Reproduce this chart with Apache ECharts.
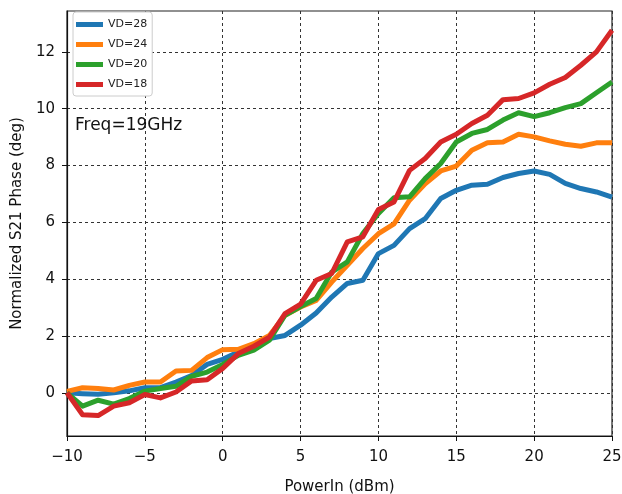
<!DOCTYPE html>
<html>
<head>
<meta charset="utf-8">
<script src="https://cdn.jsdelivr.net/npm/echarts@6/dist/echarts.min.js"></script>
<style>
  html, body { margin: 0; padding: 0; background: #fff; }
  #main { width: 622px; height: 494px; }
</style>
</head>
<body>
<div id="main"></div>
<script>
// input power sweep (dBm)
var powerIn = [-10, -9, -8, -7, -6, -5, -4, -3, -2, -1, 0, 1, 2, 3, 4, 5, 6, 7, 8, 9, 10,
               11, 12, 13, 14, 15, 16, 17, 18, 19, 20, 21, 22, 23, 24, 25];

// normalized S21 phase (deg), one array per drain voltage
var vd28 = [0, -0.03, -0.05, 0, 0.07, 0.18, 0.18, 0.38, 0.61, 1.0, 1.18, 1.44, 1.61, 1.91, 2.02, 2.38, 2.81, 3.37, 3.85, 3.96, 4.9,
            5.19, 5.78, 6.13, 6.84, 7.13, 7.31, 7.34, 7.58, 7.72, 7.81, 7.69, 7.37, 7.19, 7.07, 6.89];
var vd24 = [0.05, 0.18, 0.15, 0.1, 0.26, 0.38, 0.38, 0.77, 0.79, 1.24, 1.52, 1.53, 1.73, 2.02, 2.73, 3.02, 3.25, 3.9, 4.49, 5.08, 5.6,
            5.95, 6.78, 7.36, 7.81, 7.98, 8.54, 8.8, 8.83, 9.1, 9.01, 8.87, 8.75, 8.68, 8.8, 8.8];
var vd20 = [0, -0.47, -0.26, -0.4, -0.2, 0.06, 0.15, 0.23, 0.58, 0.73, 1.0, 1.32, 1.5, 1.85, 2.73, 3.04, 3.32, 4.25, 4.61, 5.61, 6.31,
            6.87, 6.9, 7.54, 8.07, 8.83, 9.13, 9.27, 9.6, 9.86, 9.72, 9.86, 10.04, 10.18, 10.56, 10.94];
var vd18 = [0, -0.77, -0.8, -0.47, -0.35, -0.06, -0.18, 0.03, 0.42, 0.46, 0.86, 1.38, 1.64, 1.96, 2.79, 3.12, 3.96, 4.2, 5.31, 5.49, 6.45,
            6.72, 7.83, 8.25, 8.83, 9.1, 9.48, 9.77, 10.32, 10.36, 10.56, 10.86, 11.1, 11.53, 12.0, 12.76];

var seriesNames = ['VD=28', 'VD=24', 'VD=20', 'VD=18'];
var seriesValues = [vd28, vd24, vd20, vd18];
var seriesColors = ['#1f77b4', '#ff7f0e', '#2ca02c', '#d62728'];

var yTicks = [0, 2, 4, 6, 8, 10, 12];

var font = '"DejaVu Sans", sans-serif';

function minus(v) {
    return String(v).replace('-', '\u2212');
}

var chart = echarts.init(document.getElementById('main'));

var series = seriesNames.map(function (name, i) {
    return {
        name: name,
        type: 'line',
        showSymbol: false,
        symbol: 'none',
        data: powerIn.map(function (x, j) { return [x, seriesValues[i][j]]; }),
        lineStyle: { width: 5, color: seriesColors[i], join: 'round' },
        itemStyle: { color: seriesColors[i] }
    };
});

var option = {
    animation: false,
    grid: {
        left: 67, right: 10, top: 11, bottom: 58,
        outerBoundsMode: 'none',
        show: true, borderColor: '#222', borderWidth: 1.2
    },
    legend: {
        orient: 'vertical',
        left: 73, top: 12,
        padding: [7, 5, 6, 3],
        itemGap: 9,
        itemWidth: 27, itemHeight: 5,
        icon: 'rect',
        backgroundColor: '#fff',
        borderColor: '#ccc', borderWidth: 1, borderRadius: 3,
        textStyle: { fontFamily: font, fontSize: 11, color: '#222' },
        data: seriesNames
    },
    graphic: [{
        type: 'text', left: 75, top: 117,
        style: { text: 'Freq=19GHz', font: '17px ' + font, fill: '#111' }
    }],
    xAxis: {
        type: 'value', min: -10, max: 25, interval: 5,
        name: 'PowerIn (dBm)', nameLocation: 'middle', nameGap: 44,
        nameTextStyle: { fontFamily: font, fontSize: 15, color: '#111' },
        axisLine: { show: true, onZero: false, lineStyle: { color: '#111', width: 1.2 } },
        axisTick: { show: true, length: 5, lineStyle: { color: '#111' } },
        axisLabel: { fontFamily: font, fontSize: 15, color: '#111', margin: 14, formatter: minus },
        splitLine: { show: true, lineStyle: { color: '#333', type: [3, 3], width: 1 } }
    },
    yAxis: {
        type: 'value', min: -1.52, max: 13.44,
        name: 'Normalized S21 Phase (deg)', nameLocation: 'middle', nameGap: 40,
        nameTextStyle: { fontFamily: font, fontSize: 15, color: '#111' },
        axisLine: { show: true, onZero: false, lineStyle: { color: '#111', width: 1.2 } },
        axisTick: { show: true, length: 5, customValues: yTicks, lineStyle: { color: '#111' } },
        axisLabel: { fontFamily: font, fontSize: 15, color: '#111', margin: 12, customValues: yTicks, formatter: minus },
        splitLine: { show: true, lineStyle: { color: '#333', type: [3, 3], width: 1 } }
    },
    series: series
};

chart.setOption(option);
</script>
</body>
</html>
